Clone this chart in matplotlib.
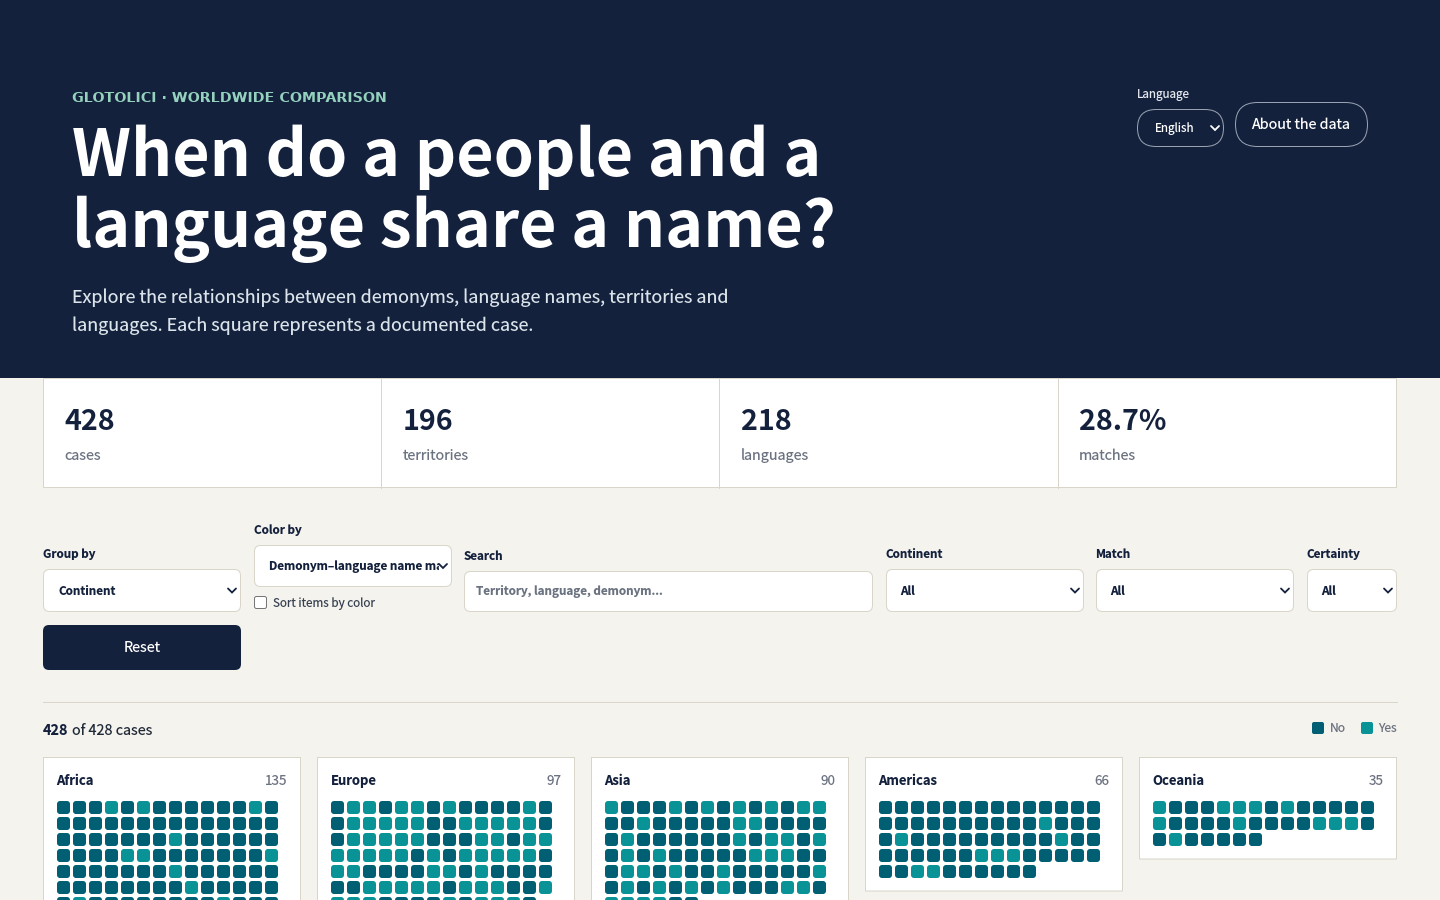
import matplotlib
matplotlib.use('Agg')
import matplotlib.pyplot as plt
from matplotlib.patches import FancyBboxPatch, Rectangle

plt.rcParams['font.family'] = ['Noto Sans CJK SC', 'DejaVu Sans']
plt.rcParams['text.hinting'] = 'no_autohint'
plt.rcParams['text.hinting_factor'] = 8

NAVY = '#14213d'
PAPER = '#f5f3ee'
LINE = '#d9d5c9'
NO_COL = '#005f73'
YES_COL = '#0a9396'
GREY = '#6b7280'

# data
stat_values = ['428', '196', '218', '28.7%']
stat_labels = ['cases', 'territories', 'languages', 'matches']
panel_names = ['Africa', 'Europe', 'Asia', 'Americas', 'Oceania']
panel_counts = [135, 97, 90, 66, 35]

# 1 = match, one string per visible row
africa = ['00010100000010', '00000000000000', '00000001000000', '00001100000001',
          '00000001000000', '00000000100000', '01000000001000']
europe = ['01101101000010', '01111100111110', '01111100011011', '11111010111110',
          '11000011010000', '00111110111001', '1110000101110']
asia = ['10001010101011', '00100000110000', '01000000101101', '01010000011100',
        '01101001000001', '01010101000110', '111100']
americas = ['00000000000000', '00000000001000', '01000000000100', '00000011100000',
            '0011000000']
oceania = ['10001110100000', '10000100001110', '0100000']
panel_rows = [africa, europe, asia, americas, oceania]
panel_bottoms = [960, 960, 960, 891.5, 859.5]

fig = plt.figure(figsize=(14.4, 9), dpi=100, facecolor=PAPER)
ax = fig.add_axes([0, 0, 1, 1])
ax.set_xlim(0, 1440)
ax.set_ylim(900, 0)
ax.axis('off')


def px(size):
    # the CJK family's latin runs about 10% wider than the page font
    return size * 0.72 * 0.895


def box(x0, y0, x1, y1, r=6, fc='white', ec=LINE, lw=0.72, z=2):
    p = FancyBboxPatch((x0, y0), x1 - x0, y1 - y0, boxstyle='round,pad=0,rounding_size=%s' % r,
                       fc=fc, ec=ec, lw=lw, zorder=z)
    ax.add_patch(p)
    return p


def label(x, y, s, size=13, color=NAVY, weight='normal', ha='left', base=False, **kw):
    # y is the middle of the line unless base is set, so descenders do not shift the text
    if not base:
        y = round(y + 0.35 * max(size, 14))
    return ax.text(x, y, s, fontsize=px(size), color=color, fontweight=weight,
                   ha=ha, va='baseline', zorder=5, **kw)


def chevron(x, y, color=NAVY):
    ax.plot([x - 4, x, x + 4], [y - 2, y + 2, y - 2], color=color, lw=1.3, zorder=6,
            solid_capstyle='round', solid_joinstyle='miter')


# header
ax.add_patch(Rectangle((0, 0), 1440, 378, fc=NAVY, ec='none', zorder=1))
ax.text(72, 102, 'GLOTOLICI · WORLDWIDE COMPARISON', fontsize=px(15.9), color='#94d2bd', fontweight='bold',
        family='DejaVu Sans', va='baseline', zorder=5)
label(72, 176, 'When do a people and a', 72, 'white', 'bold', base=True)
label(72, 247, 'language share a name?', 72, 'white', 'bold', base=True)
label(72, 296, 'Explore the relationships between demonyms, language names, territories and', 20, '#dbe4ea')
label(72, 324, 'languages. Each square represents a documented case.', 20, '#dbe4ea')

label(1137, 93.5, 'Language', 13, '#e5e9ee')
box(1137.5, 109.5, 1223.5, 146.5, r=18.5, fc=NAVY, ec='#9aa3b2')
label(1155, 127.5, 'English', 13, 'white')
chevron(1215, 128, 'white')
box(1235.5, 102.5, 1367.5, 146.5, r=22, fc=NAVY, ec='#9aa3b2')
label(1301, 123.5, 'About the data', 16, 'white', ha='center')

# stats row
ax.add_patch(Rectangle((43, 378), 1353, 109, fc='white', ec=LINE, lw=0.72, zorder=2))
stat_x = [64, 402.5, 740.5, 1079]
for i in range(4):
    if i > 0:
        ax.plot([stat_x[i] - 21.5, stat_x[i] - 21.5], [378, 488], color=LINE, lw=0.72, zorder=3)
    label(stat_x[i], 419, stat_values[i], 32, NAVY, 'bold')
    label(stat_x[i], 454, stat_labels[i], 16, GREY)

# controls
label(43, 553, 'Group by', 13, NAVY, 'bold')
box(43.5, 569.5, 240.5, 611.5)
label(58.5, 590.5, 'Continent', 13, NAVY, 'bold')
chevron(232, 590.5)

label(254, 529, 'Color by', 13, NAVY, 'bold')
box(254.5, 545.5, 451.5, 586.5)
t = label(269, 565.5, 'Demonym–language name match', 13, NAVY, 'bold')
t.set_clip_path(Rectangle((254, 545), 185, 42, transform=ax.transData))
t.set_clip_on(True)
chevron(443, 566)
box(254.5, 596.5, 266.5, 608.5, r=2, ec='#767676')
label(273, 602, 'Sort items by color', 13, '#374151')

label(464, 555, 'Search', 13, NAVY, 'bold')
box(464.5, 571.5, 872.5, 611.5)
label(476, 590.5, 'Territory, language, demonym...', 13, '#6b7280', 'bold')

for x0, x1, name, val in [(886, 1084, 'Continent', 'All'), (1096, 1294, 'Match', 'All'), (1307, 1397, 'Certainty', 'All')]:
    label(x0 - 0.5, 553, name, 13, NAVY, 'bold')
    box(x0 + 0.5, 569.5, x1 - 0.5, 611.5)
    label(x0 + 14.5, 590.5, val, 13, NAVY, 'bold')
    chevron(x1 - 9, 590.5)

box(43, 625, 241, 670, fc=NAVY, ec=NAVY, lw=0)
label(142, 646.5, 'Reset', 16, 'white', ha='center')

# summary + legend
ax.plot([43, 1396.5], [702, 702], color=LINE, lw=0.72, zorder=2)
t = label(43, 729, '428', 16, NAVY, 'bold')
fig.canvas.draw()
w = t.get_window_extent().width
label(43 + w + 3.5, 729, 'of 428 cases', 16, '#1f2937')
box(1312, 722, 1324, 734, r=2, fc=NO_COL, ec='none')
label(1330, 727.5, 'No', 13.5, GREY)
box(1361, 722, 1373, 734, r=2, fc=YES_COL, ec='none')
label(1378, 727.5, 'Yes', 13.5, GREY)

# waffle panels
for i, name in enumerate(panel_names):
    x0 = 43 + i * 274
    box(x0 + 0.5, 757.5, x0 + 257.5, panel_bottoms[i] - 0.5, r=0.01)
    label(x0 + 13.5, 780, name, 14.5, NAVY, 'bold')
    label(x0 + 244.5, 780, str(panel_counts[i]), 15, GREY, ha='right')
    for r, row in enumerate(panel_rows[i]):
        for c, v in enumerate(row):
            col = YES_COL if v == '1' else NO_COL
            box(x0 + 14 + c * 16, 801 + r * 16, x0 + 27 + c * 16, 814 + r * 16, r=3, fc=col, ec='none', lw=0, z=3)

fig.savefig('out.png', dpi=100, facecolor=PAPER)
